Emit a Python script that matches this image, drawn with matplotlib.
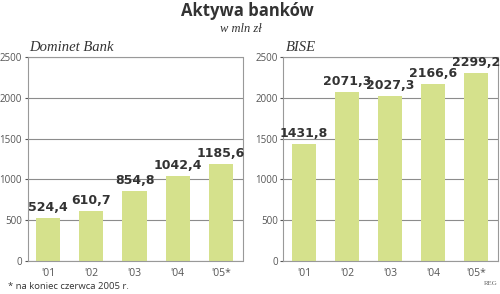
import matplotlib
matplotlib.use('Agg')
import matplotlib.pyplot as plt

# data
years = ["'01", "'02", "'03", "'04", "'05*"]
dominet = [524.4, 610.7, 854.8, 1042.4, 1185.6]
bise = [1431.8, 2071.3, 2027.3, 2166.6, 2299.2]
yticks = [0, 500, 1000, 1500, 2000, 2500]

bar_color = '#d5e18c'
grid_color = '#8c8c8c'
text_color = '#333333'

plt.rcParams['font.family'] = ['Open Sans', 'DejaVu Sans']

fig = plt.figure(figsize=(5, 2.94), dpi=100)
ax1 = fig.add_axes([0.055, 0.1122, 0.43, 0.6939])
ax2 = fig.add_axes([0.5666, 0.1122, 0.4288, 0.6939])


def draw_panel(ax, values, name):
    x = range(len(years))
    ax.bar(x, values, width=0.56, color=bar_color, zorder=2)
    ax.set_xlim(-0.48, 4.5)
    ax.set_ylim(0, 2500)
    ax.set_yticks(yticks)
    ax.set_yticklabels([str(t) for t in yticks])
    ax.set_xticks(list(x))
    ax.set_xticklabels(years)
    ax.grid(axis='y', color=grid_color, linewidth=0.8, zorder=1)
    for s in ax.spines.values():
        s.set_color('#999999')
        s.set_linewidth(0.8)
    ax.tick_params(axis='y', length=2, pad=2, labelsize=7, colors='#555555')
    ax.tick_params(axis='x', length=0, pad=5, labelsize=7.5, colors='#555555')
    # value labels above the bars
    for i, v in enumerate(values):
        lbl = ('%.1f' % v).replace('.', ',')
        ax.annotate(lbl, (i, v), xytext=(0, 5), textcoords='offset points',
                    ha='center', va='baseline', fontsize=9, fontweight='bold',
                    family='DejaVu Sans', color=text_color, annotation_clip=False)
    ax.text(0.01, 1.03, name, transform=ax.transAxes, ha='left', va='baseline',
            fontsize=10.5, style='italic', family='Liberation Serif', color=text_color)


draw_panel(ax1, dominet, 'Dominet Bank')
draw_panel(ax2, bise, 'BISE')

fig.text(0.494, 0.945, 'Aktywa banków', ha='center', va='baseline',
         fontsize=12, fontweight='bold', color=text_color)
fig.text(0.482, 0.892, 'w mln zł', ha='center', va='baseline',
         fontsize=9, style='italic', family='Liberation Serif', color=text_color)
fig.text(0.016, 0.018, '* na koniec czerwca 2005 r.', ha='left', va='baseline',
         fontsize=6.8, color=text_color)
fig.text(0.996, 0.03, 'REG', ha='right', va='baseline',
         fontsize=5, family='Liberation Serif', color='#666666')

fig.savefig('out.png', dpi=100)
